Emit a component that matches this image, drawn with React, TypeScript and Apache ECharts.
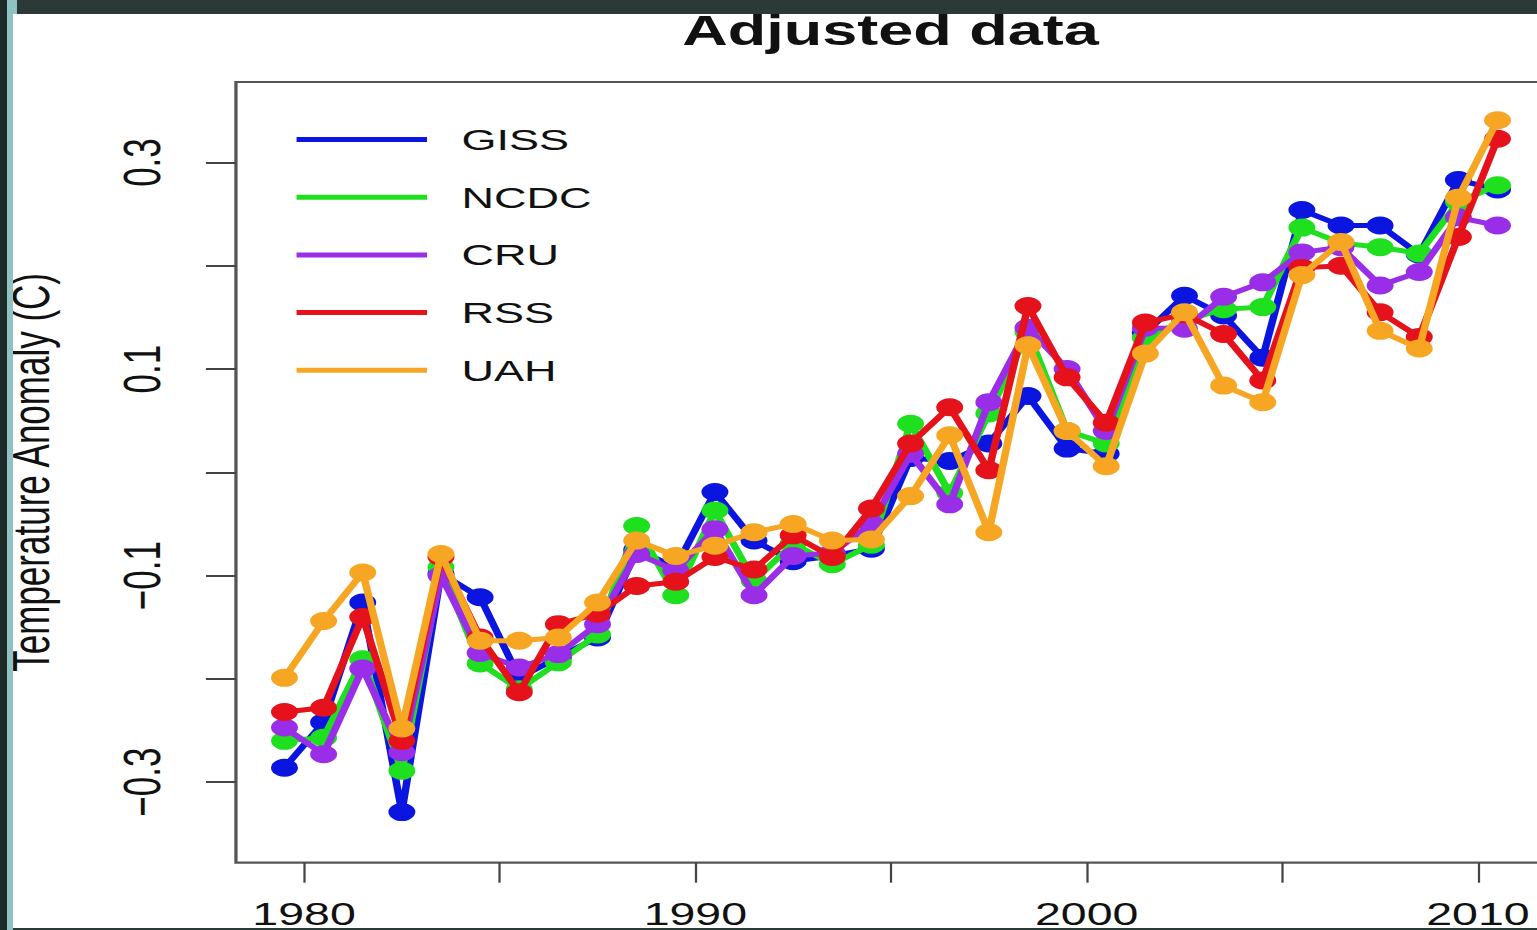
import React, { useEffect, useRef } from "react";
import * as echarts from "echarts";

// Years (annual means plotted at mid-year)
const years = [
  1979, 1980, 1981, 1982, 1983, 1984, 1985, 1986, 1987, 1988, 1989, 1990, 1991, 1992, 1993, 1994,
  1995, 1996, 1997, 1998, 1999, 2000, 2001, 2002, 2003, 2004, 2005, 2006, 2007, 2008, 2009, 2010,
];

const giss = [
  -0.286, -0.242, -0.126, -0.329, -0.098, -0.121, -0.199, -0.179, -0.16, -0.075, -0.092, -0.019,
  -0.066, -0.086, -0.081, -0.074, 0.014, 0.011, 0.028, 0.074, 0.023, 0.018, 0.135, 0.171, 0.152,
  0.111, 0.254, 0.239, 0.239, 0.211, 0.283, 0.274,
];
const ncdc = [
  -0.26, -0.257, -0.181, -0.289, -0.092, -0.185, -0.21, -0.184, -0.157, -0.052, -0.119, -0.037,
  -0.105, -0.069, -0.089, -0.07, 0.047, -0.02, 0.057, 0.136, 0.04, 0.028, 0.13, 0.147, 0.158, 0.16,
  0.237, 0.222, 0.218, 0.212, 0.262, 0.278,
];
const cru = [
  -0.247, -0.273, -0.19, -0.271, -0.1, -0.175, -0.189, -0.176, -0.147, -0.079, -0.095, -0.055,
  -0.119, -0.081, -0.078, -0.05, 0.018, -0.031, 0.068, 0.14, 0.1, 0.04, 0.14, 0.139, 0.17, 0.184,
  0.213, 0.218, 0.181, 0.194, 0.247, 0.239,
];
const rss = [
  -0.232, -0.228, -0.14, -0.26, -0.082, -0.16, -0.213, -0.147, -0.137, -0.11, -0.106, -0.082,
  -0.094, -0.061, -0.082, -0.035, 0.028, 0.063, 0.002, 0.161, 0.092, 0.048, 0.145, 0.153, 0.134,
  0.089, 0.198, 0.2, 0.155, 0.131, 0.228, 0.323,
];
const uah = [
  -0.199, -0.144, -0.097, -0.248, -0.079, -0.163, -0.163, -0.16, -0.126, -0.066, -0.081, -0.071,
  -0.058, -0.05, -0.066, -0.065, -0.023, 0.036, -0.058, 0.123, 0.04, 0.006, 0.115, 0.155, 0.084,
  0.068, 0.191, 0.223, 0.137, 0.12, 0.266, 0.341,
];

const seriesNames = ["GISS", "NCDC", "CRU", "RSS", "UAH"];
const seriesValues = [giss, ncdc, cru, rss, uah];
const seriesColors = ["#0a16e0", "#1ee01e", "#9a2ee8", "#e5121c", "#f7a623"];

const xTickValues = [1980, 1985, 1990, 1995, 2000, 2005, 2010];
const xLabelValues = [1980, 1990, 2000, 2010];
const yTickValues = [-0.3, -0.2, -0.1, 0, 0.1, 0.2, 0.3];
const yLabelValues = [-0.3, -0.1, 0.1, 0.3];

const STRETCH = 1.5;
const FONT = "'Liberation Sans', Arial, Helvetica, sans-serif";

export default function App() {
  const ref = useRef<HTMLDivElement>(null);

  useEffect(() => {
    if (!ref.current) return;
    const chart = echarts.init(ref.current, undefined, { renderer: "svg" });
    const option = {
      animation: false,
      backgroundColor: "#ffffff",
      textStyle: { fontFamily: FONT },
      title: {
        text: "Adjusted data",
        left: 588.7,
        textAlign: "center",
        top: 4,
        textStyle: { fontFamily: FONT, fontSize: 42, fontWeight: "bold", color: "#111" },
      },
      legend: {
        orient: "vertical",
        left: 192.7,
        top: 119.5,
        icon: "rect",
        itemWidth: 87,
        itemHeight: 5,
        itemGap: 27.7,
        data: seriesNames,
        textStyle: {
          fontFamily: FONT,
          fontSize: 30,
          lineHeight: 30,
          color: "#111",
          padding: [0, 0, 0, 18],
        },
      },
      grid: {
        left: 157.3,
        right: 1.3,
        top: 82,
        bottom: 67.3,
        containLabel: false,
        outerBoundsMode: "none",
        show: true,
        borderColor: "#555",
        borderWidth: 2.2,
        backgroundColor: "transparent",
      },
      xAxis: {
        type: "value",
        min: 1978.26,
        max: 2011.74,
        splitLine: { show: false },
        axisLine: { show: false, onZero: false },
        axisTick: {
          show: true,
          length: 20,
          customValues: xTickValues,
          lineStyle: { color: "#444", width: 1.5 },
        },
        axisLabel: {
          customValues: xLabelValues,
          margin: 36,
          fontSize: 31,
          color: "#111",
          fontFamily: FONT,
          formatter: (v: number) => String(Math.round(v)),
        },
      },
      yAxis: {
        type: "value",
        min: -0.378,
        max: 0.378,
        name: "Temperature Anomaly (C)",
        nameLocation: "middle",
        nameRotate: 90,
        nameGap: 119,
        nameTextStyle: { fontFamily: FONT, fontSize: 35, color: "#111" },
        splitLine: { show: false },
        axisLine: { show: false, onZero: false },
        axisTick: {
          show: true,
          length: 20,
          customValues: yTickValues,
          lineStyle: { color: "#444", width: 2 },
        },
        axisLabel: {
          customValues: yLabelValues,
          rotate: 90,
          margin: 45,
          fontSize: 35,
          color: "#111",
          fontFamily: FONT,
          formatter: (v: number) => (v < 0 ? "\u2212" : "") + Math.abs(v).toFixed(1),
        },
      },
      series: seriesNames.map((name, i) => ({
        name,
        type: "line",
        data: years.map((y, j) => [y + 0.5, seriesValues[i][j]]),
        symbol: "circle",
        symbolSize: 18,
        showSymbol: true,
        z: 2 + i,
        lineStyle: { color: seriesColors[i], width: 5 },
        itemStyle: { color: seriesColors[i] },
        emphasis: { disabled: true },
      })),
    };
    chart.setOption(option as any);
    return () => chart.dispose();
  }, []);

  return (
    <div
      style={{
        position: "fixed",
        left: 0,
        top: 0,
        width: 1537,
        height: 930,
        overflow: "hidden",
        background: "#fff",
      }}
    >
      <div
        ref={ref}
        style={{
          position: "absolute",
          left: 0,
          top: 0,
          width: 1032,
          height: 930,
          transform: `scaleX(${STRETCH})`,
          transformOrigin: "0 0",
        }}
      />
      <div style={{ position: "absolute", left: 0, top: 0, width: 7, height: 930, background: "#1f2b28" }} />
      <div style={{ position: "absolute", left: 7, top: 0, width: 6, height: 930, background: "#8fc3c3" }} />
      <div style={{ position: "absolute", left: 13, top: 0, width: 4, height: 14, background: "#8fc3c3" }} />
      <div style={{ position: "absolute", left: 17, top: 0, width: 1520, height: 14, background: "#2b3a36" }} />
      <div style={{ position: "absolute", left: 13, top: 928, width: 1524, height: 2, background: "#2b3a36" }} />
    </div>
  );
}
